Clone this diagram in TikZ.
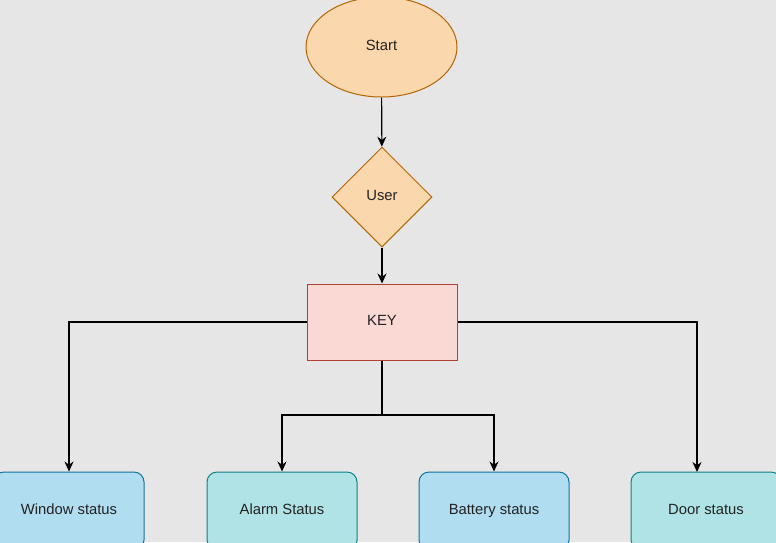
\documentclass[tikz,border=0pt]{standalone}
\usepackage{fontspec}
\setmainfont{Liberation Sans}
\usetikzlibrary{shapes.geometric,arrows.meta}
\definecolor{bg}{HTML}{E6E6E6}
\definecolor{orfill}{HTML}{FAD7AC}
\definecolor{orstroke}{HTML}{B46504}
\definecolor{redfill}{HTML}{FAD9D5}
\definecolor{redstroke}{HTML}{AE4132}
\definecolor{bluefill}{HTML}{B1DDF0}
\definecolor{bluestroke}{HTML}{10739E}
\definecolor{tealfill}{HTML}{B0E3E6}
\definecolor{tealstroke}{HTML}{0E8088}
\definecolor{txt}{HTML}{222222}
\begin{document}
\begin{tikzpicture}[x=1pt,y=-1pt,
  every node/.style={font=\fontsize{14.8}{17}\selectfont, text=txt, line width=1pt, text height=10.5pt, text depth=3pt},
  orshape/.style={draw=orstroke, fill=orfill, inner sep=0pt},
  keybox/.style={draw=redstroke, fill=redfill, minimum width=150pt, minimum height=76pt, inner sep=0pt},
  bluebox/.style={draw=bluestroke, fill=bluefill, rounded corners=10pt, minimum width=150pt, minimum height=78pt, inner sep=0pt},
  tealbox/.style={draw=tealstroke, fill=tealfill, rounded corners=10pt, minimum width=150pt, minimum height=78pt, inner sep=0pt},
  arr/.style={draw=black, line width=1.1pt, -{Stealth[length=10pt,width=9pt]}},
  conn/.style={draw=black, line width=1.1pt}
]
\useasboundingbox (0,0) rectangle (776,542);
\clip (0,0) rectangle (776,542);
\fill[bg] (0,0) rectangle (776,542);

\node[orshape, ellipse, minimum width=151pt, minimum height=100pt] (start) at (381.5,47) {Start};
\node[orshape, diamond, minimum width=100pt, minimum height=100pt] (user) at (382,197) {User};
\node[keybox] (key) at (382,322) {KEY};

\node[bluebox] (win) at (69,511) {Window status};
\node[tealbox] (alarm) at (282,511) {Alarm Status};
\node[bluebox] (batt) at (494,511) {Battery status};
\node[tealbox] (door) at (706,511) {Door status};

\coordinate (split) at (382,415);
\coordinate (doorin) at (697,472);

\draw[arr] (start) -- (user);
\draw[arr] (user) -- (key);
\draw[arr] (key.west) -| (win.north);
\draw[arr] (key.east) -| (doorin);
\draw[conn] (key.south) -- (split);
\draw[arr] (split) -| (alarm.north);
\draw[arr] (split) -| (batt.north);
\end{tikzpicture}
\end{document}
